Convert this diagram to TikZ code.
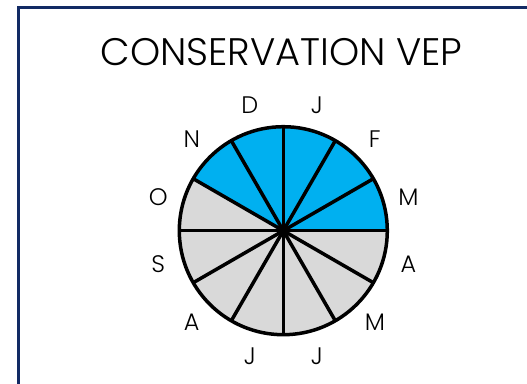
\documentclass[tikz,border=0pt]{standalone}
\usepackage{fontspec}
\setmainfont{Poppins Light}
\usetikzlibrary{calc}
\definecolor{navy}{RGB}{18,42,100}
\definecolor{pieblue}{RGB}{0,176,240}
\definecolor{piegray}{RGB}{217,217,217}
\tikzset{
  frameline/.style={draw=navy, line width=3bp},
  pieline/.style={draw=black, line width=3.5bp, line join=round},
  monthlabel/.style={font=\fontsize{24}{26}\selectfont, inner sep=0pt, anchor=center},
  titletext/.style={font=\fontsize{38.5}{44}\selectfont, inner sep=0pt, anchor=base}
}
\begin{document}
\begin{tikzpicture}[x=1bp,y=1bp]
\useasboundingbox (0,0) rectangle (527,383);
\fill[white] (0,0) rectangle (527,383);
\begin{scope}
\clip (0,0) rectangle (527,383);
\draw[frameline] (18.7,-20) -- (18.7,375.5) -- (560,375.5);
\end{scope}
\node[titletext] (title) at (281.5,318) {CONSERVATION VEP};
\coordinate (c) at (283.3,152.3);
\def\R{104}
\foreach \i in {0,...,11}{
  \pgfmathsetmacro{\a}{30*\i}
  \pgfmathsetmacro{\b}{30*(\i+1)}
  \ifnum\i<5
    \fill[pieblue] (c) -- ++(\a:\R) arc[start angle=\a, end angle=\b, radius=\R] -- cycle;
  \else
    \fill[piegray] (c) -- ++(\a:\R) arc[start angle=\a, end angle=\b, radius=\R] -- cycle;
  \fi
}
\foreach \i in {0,...,5}{
  \draw[pieline] ($(c)+(30*\i:\R)$) -- ($(c)+(30*\i+180:\R)$);
}
\draw[pieline] (c) circle[radius=\R];
\fill (c) circle[radius=3bp];
\foreach \n/\t [count=\k from 0] in {m1/J,m2/F,m3/M,m4/A,m5/M,m6/J,m7/J,m8/A,m9/S,m10/O,m11/N,m12/D}{
  \node[monthlabel] (\n) at ($(c)+(75-30*\k:129.5)$) {\t};
}
\end{tikzpicture}
\end{document}
